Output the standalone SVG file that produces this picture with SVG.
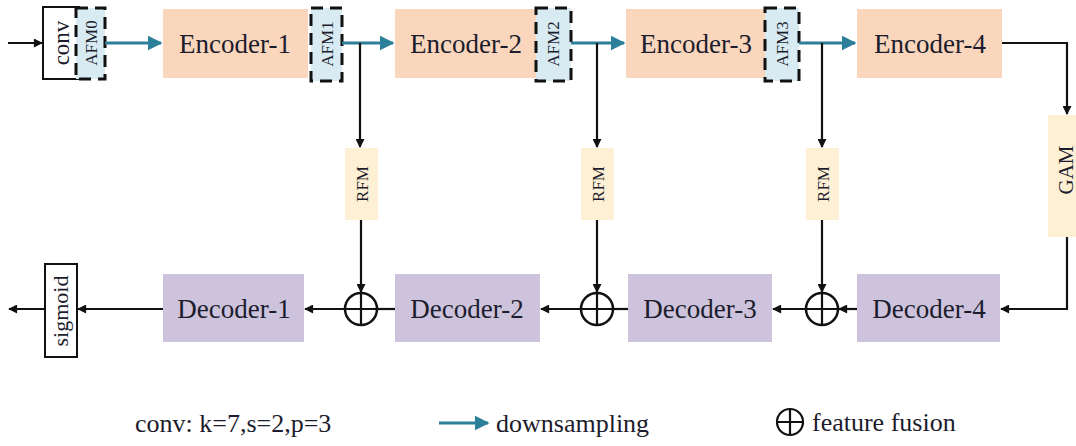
<svg xmlns="http://www.w3.org/2000/svg" width="1076" height="446" viewBox="0 0 1076 446">
<defs>
<style>
text{font-family:"Liberation Serif","Times New Roman",serif;fill:#1c1c2c}
.enc{fill:#fad6bc}
.dec{fill:#cdc3dc}
.cream{fill:#fef0d4}
.afm{fill:#d8ebf3;stroke:#111;stroke-width:3;stroke-dasharray:12 7}
.ln{fill:none;stroke:#111;stroke-width:2.2}
.bl{fill:none;stroke:#2b7f98;stroke-width:3}
.lbl{font-size:27px;text-anchor:middle}
.vt{text-anchor:middle}
</style>
<marker id="ah" viewBox="0 0 10 10" refX="9" refY="5" markerWidth="10" markerHeight="9" markerUnits="userSpaceOnUse" orient="auto"><path d="M0,0 L10,5 L0,10 z" fill="#111"/></marker>
<marker id="bh" viewBox="0 0 10 10" refX="9" refY="5" markerWidth="5" markerHeight="5" orient="auto"><path d="M0,0 L10,5 L0,10 z" fill="#2b7f98"/></marker>
</defs>
<rect width="1076" height="446" fill="#fff"/>

<g id="conv"><rect x="43" y="7" width="36" height="72" fill="#fff" stroke="#111" stroke-width="2"/><text class="vt" font-size="23" transform="translate(62,43) rotate(-90)" dy="7">conv</text></g>
<g id="afm0"><rect class="afm" x="76" y="8" width="29" height="71"/><text class="vt" font-size="17" transform="translate(91,43) rotate(-90)" dy="6">AFM0</text></g>

<g id="enc1"><rect class="enc" x="163" y="9" width="145" height="69"/><text class="lbl" x="235" y="53">Encoder-1</text></g>
<g id="afm1"><rect class="afm" x="311" y="8" width="31" height="73"/><text class="vt" font-size="17" transform="translate(327,44) rotate(-90)" dy="6">AFM1</text></g>
<g id="enc2"><rect class="enc" x="395" y="9" width="143" height="69"/><text class="lbl" x="466" y="53">Encoder-2</text></g>
<g id="afm2"><rect class="afm" x="536" y="8" width="35" height="73"/><text class="vt" font-size="17" transform="translate(553,44) rotate(-90)" dy="6">AFM2</text></g>
<g id="enc3"><rect class="enc" x="626" y="9" width="140" height="69"/><text class="lbl" x="696" y="53">Encoder-3</text></g>
<g id="afm3"><rect class="afm" x="765" y="8" width="34" height="73"/><text class="vt" font-size="17" transform="translate(782,44) rotate(-90)" dy="6">AFM3</text></g>
<g id="enc4"><rect class="enc" x="857" y="9" width="145" height="69"/><text class="lbl" x="930" y="53">Encoder-4</text></g>

<g id="rfm1"><rect class="cream" x="345" y="148" width="33" height="72"/><text class="vt" font-size="17" transform="translate(361.5,184) rotate(-90)" dy="6">RFM</text></g>
<g id="rfm2"><rect class="cream" x="581" y="148" width="33" height="72"/><text class="vt" font-size="17" transform="translate(597.5,184) rotate(-90)" dy="6">RFM</text></g>
<g id="rfm3"><rect class="cream" x="806" y="148" width="33" height="72"/><text class="vt" font-size="17" transform="translate(822.5,184) rotate(-90)" dy="6">RFM</text></g>
<g id="gam"><rect class="cream" x="1048" y="115" width="40" height="122"/><text class="vt" font-size="21" transform="translate(1066,170) rotate(-90)" dy="7">GAM</text></g>

<g id="dec1"><rect class="dec" x="163" y="274" width="141" height="68"/><text class="lbl" x="234" y="318">Decoder-1</text></g>
<g id="dec2"><rect class="dec" x="395" y="274" width="145" height="68"/><text class="lbl" x="467" y="318">Decoder-2</text></g>
<g id="dec3"><rect class="dec" x="628" y="274" width="144" height="68"/><text class="lbl" x="700" y="318">Decoder-3</text></g>
<g id="dec4"><rect class="dec" x="857" y="274" width="143" height="68"/><text class="lbl" x="929" y="318">Decoder-4</text></g>

<g id="sigmoid"><rect x="45" y="264" width="32" height="93" fill="#fff" stroke="#111" stroke-width="2"/><text class="vt" font-size="22" transform="translate(61,311) rotate(-90)" dy="7">sigmoid</text></g>

<g id="fuse1"><circle cx="361" cy="309" r="16" fill="#fff" stroke="#111" stroke-width="2.5"/><path class="ln" d="M345,309 H377 M361,293 V325" stroke-width="2.5"/></g>
<g id="fuse2"><circle cx="597" cy="309" r="16" fill="#fff" stroke="#111" stroke-width="2.5"/><path class="ln" d="M581,309 H613 M597,293 V325" stroke-width="2.5"/></g>
<g id="fuse3"><circle cx="822" cy="309" r="16" fill="#fff" stroke="#111" stroke-width="2.5"/><path class="ln" d="M806,309 H838 M822,293 V325" stroke-width="2.5"/></g>

<g id="connectors">
<path class="ln" d="M8,43 H42" marker-end="url(#ah)"/>
<path class="bl" d="M105,43 H161" marker-end="url(#bh)"/>
<path class="bl" d="M342,43 H393" marker-end="url(#bh)"/>
<path class="bl" d="M571,43 H624" marker-end="url(#bh)"/>
<path class="bl" d="M799,43 H855" marker-end="url(#bh)"/>
<path class="ln" d="M360,43 V147" marker-end="url(#ah)"/>
<path class="ln" d="M597,43 V147" marker-end="url(#ah)"/>
<path class="ln" d="M822,43 V147" marker-end="url(#ah)"/>
<path class="ln" d="M361,220 V292" marker-end="url(#ah)"/>
<path class="ln" d="M597,220 V292" marker-end="url(#ah)"/>
<path class="ln" d="M822,220 V292" marker-end="url(#ah)"/>
<path class="ln" d="M1002,43 H1067 V114" marker-end="url(#ah)"/>
<path class="ln" d="M1067,237 V309 H1001" marker-end="url(#ah)"/>
<path class="ln" d="M857,309 H839" marker-end="url(#ah)"/>
<path class="ln" d="M806,309 H773" marker-end="url(#ah)"/>
<path class="ln" d="M628,309 H613"/>
<path class="ln" d="M581,309 H541" marker-end="url(#ah)"/>
<path class="ln" d="M395,309 H377"/>
<path class="ln" d="M345,309 H305" marker-end="url(#ah)"/>
<path class="ln" d="M163,309 H78" marker-end="url(#ah)"/>
<path class="ln" d="M45,309 H9" marker-end="url(#ah)"/>
</g>

<g id="legend">
<text x="135" y="432" font-size="26">conv: k=7,s=2,p=3</text>
<path class="bl" d="M439,423 H488" marker-end="url(#bh)"/>
<text x="496" y="432" font-size="26">downsampling</text>
<circle cx="790" cy="422" r="13" fill="#fff" stroke="#111" stroke-width="2.2"/>
<path class="ln" d="M777,422 H803 M790,409 V435" stroke-width="2.2"/>
<text x="812" y="431" font-size="26">feature fusion</text>
</g>
</svg>
